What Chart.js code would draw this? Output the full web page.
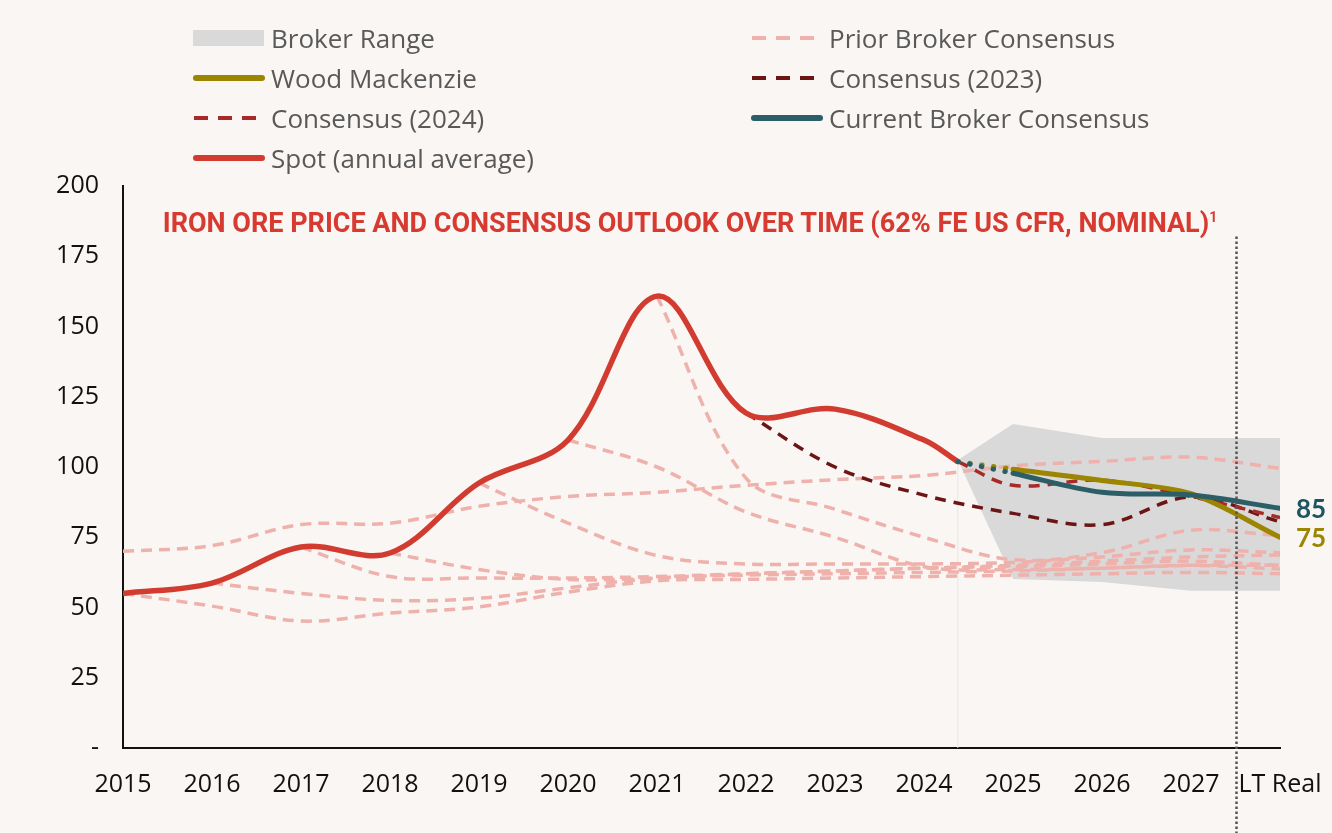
<!DOCTYPE html>
<html>
<head>
<meta charset="utf-8">
<script src="https://cdn.jsdelivr.net/npm/chart.js@4/dist/chart.umd.min.js"></script>
<style>
  html, body { margin: 0; padding: 0; background: #f9f6f3; }
  #wrap { position: relative; width: 1332px; height: 833px; overflow: hidden; }
  #chart { position: absolute; left: 0; top: 0; }
  .leg { position: absolute; display: flex; align-items: center; height: 40px;
         font-family: "Open Sans", sans-serif; font-size: 26px; color: #595959; white-space: nowrap; }
  .leg svg { margin-right: 6px; }
  #title { position: absolute; left: 0; width: 1380px; top: 207px; text-align: center;
           font-family: Roboto, sans-serif; font-weight: 700; font-size: 27px; color: #d63a30; white-space: nowrap; }
  #title sup { font-size: 14px; vertical-align: 10px; }
</style>
</head>
<body>
<div id="wrap">
  <canvas id="chart" width="1332" height="833"></canvas>
  <div id="title">IRON ORE PRICE AND CONSENSUS OUTLOOK OVER TIME (62% FE US CFR, NOMINAL)<sup>1</sup></div>
  <div id="legend"></div>
</div>
<script>
// Datos del gráfico (x = año, 2028 = LT Real)
const xLabels = ['2015', '2016', '2017', '2018', '2019', '2020', '2021', '2022', '2023', '2024', '2025', '2026', '2027', 'LT Real'];
const xTicks = [2015, 2016, 2017, 2018, 2019, 2020, 2021, 2022, 2023, 2024, 2025, 2026, 2027, 2028];

const spotX = [2015, 2016, 2017, 2018, 2019, 2020, 2021, 2022, 2023, 2024, 2024.38];
const spotY = [55, 58.7, 71.5, 69.4, 94.3, 109.6, 160.8, 119.2, 120.6, 109.6, 101.9];

const woodMacX = [2025, 2026, 2027, 2028];
const woodMacY = [99.2, 95.2, 90.5, 75];
const currentX = [2025, 2026, 2027, 2028];
const currentY = [97.8, 91, 90, 85.3];

const woodMacDotsX = [2024.38, 2025];
const woodMacDotsY = [101.9, 99.2];
const currentDotsX = [2024.38, 2025];
const currentDotsY = [101.9, 97.8];

const cons2024X = [2024.38, 2025, 2026, 2027, 2028];
const cons2024Y = [101.9, 93.5, 95.3, 89.5, 82];
const cons2023X = [2022, 2023, 2024, 2025, 2026, 2027, 2028];
const cons2023Y = [119.2, 100, 90, 83.5, 79.5, 89.3, 80.5];

const rangeX = [2024.38, 2025, 2026, 2027, 2028];
const rangeHigh = [102.5, 115.3, 110.3, 110.3, 110.3];
const rangeLow = [102.5, 60.1, 59.1, 56, 56];

const splitX = [2024.38, 2024.38];
const splitY = [0, 101.9];
const ltDivider = 2027.5;

// Consensos previos (año inicial + valores anuales)
const priorUpperStart = 2015;
const priorUpper = [70, 72, 79.5, 80, 86, 89.5, 91, 93.5, 95.5, 97, 100.4, 102, 103.5, 99.5];
const prior2015Start = 2015;
const prior2015 = [55, 50.5, 45.2, 48, 50.2, 55.5, 59.5, 60, 60.5, 61, 61.5, 62, 62.5, 62];
const prior2016Start = 2016;
const prior2016 = [58.7, 55, 52.5, 53.3, 57, 60.5, 61.5, 62, 62.5, 63, 64, 65, 63.7];
const prior2017Start = 2017;
const prior2017 = [71.5, 61, 60.5, 60.5, 61, 62, 63, 64, 64.5, 65.5, 66.5, 65];
const prior2018Start = 2018;
const prior2018 = [69.4, 63.5, 60, 60.5, 62, 63, 64, 65, 66.5, 68, 68.7];
const prior2019Start = 2019;
const prior2019 = [94.3, 80, 68.5, 65.5, 65.5, 65.5, 66, 68, 70.5, 69.5];
const prior2020Start = 2020;
const prior2020 = [109.6, 100, 84, 75, 64.5, 63.5, 64, 65, 65];
const prior2021Start = 2021;
const prior2021 = [160.8, 96, 85, 75, 67, 69.5, 77.5, 75.5];

const C = {
    spot: '#d23b2f', pink: '#efb1ab', c2024: '#a82a28', c2023: '#6b1515',
    woodMac: '#9c8500', current: '#2b5e66', range: '#d9d9d9'
};

const pts = (xs, ys) => ys.map((y, i) => ({ x: xs[i], y }));
const fromStart = (start, ys) => ys.map((y, i) => ({ x: start + i, y }));

const pinkLine = (data) => ({
    data, borderColor: C.pink, borderWidth: 3.5, borderDash: [11, 7], tension: 0.35, pointRadius: 0, fill: false
});

const datasets = [
    { label: 'Current Broker Consensus', data: pts(currentX, currentY), borderColor: C.current, borderWidth: 5, borderCapStyle: 'round', tension: 0.35, pointRadius: 0 },
    { label: 'Wood Mackenzie', data: pts(woodMacX, woodMacY), borderColor: C.woodMac, borderWidth: 5, borderCapStyle: 'round', tension: 0.3, pointRadius: 0 },
    { data: pts(currentDotsX, currentDotsY), borderColor: C.current, borderWidth: 5, borderDash: [0.5, 11.5], borderCapStyle: 'round', tension: 0, pointRadius: 0 },
    { data: pts(woodMacDotsX, woodMacDotsY), borderColor: C.woodMac, borderWidth: 5, borderDash: [0.5, 11.5], borderCapStyle: 'round', tension: 0, pointRadius: 0 },
    { label: 'Spot (annual average)', data: pts(spotX, spotY), borderColor: C.spot, borderWidth: 5.5, tension: 0.35, pointRadius: 0 },
    { label: 'Consensus (2024)', data: pts(cons2024X, cons2024Y), borderColor: C.c2024, borderWidth: 3.5, borderDash: [11, 8], tension: 0.35, pointRadius: 0 },
    { label: 'Consensus (2023)', data: pts(cons2023X, cons2023Y), borderColor: C.c2023, borderWidth: 3.5, borderDash: [11, 8], tension: 0.35, pointRadius: 0 },
    pinkLine(fromStart(priorUpperStart, priorUpper)),
    pinkLine(fromStart(prior2015Start, prior2015)),
    pinkLine(fromStart(prior2016Start, prior2016)),
    pinkLine(fromStart(prior2017Start, prior2017)),
    pinkLine(fromStart(prior2018Start, prior2018)),
    pinkLine(fromStart(prior2019Start, prior2019)),
    pinkLine(fromStart(prior2020Start, prior2020)),
    pinkLine(fromStart(prior2021Start, prior2021)),
    { data: pts(splitX, splitY), borderColor: '#ebe6e2', borderWidth: 1, tension: 0, pointRadius: 0 },
    { label: 'Broker Range', data: pts(rangeX, rangeHigh), borderWidth: 0, backgroundColor: C.range, fill: '+1', tension: 0, pointRadius: 0 },
    { data: pts(rangeX, rangeLow), borderWidth: 0, fill: false, tension: 0, pointRadius: 0 }
];

// Etiquetas finales (85 / 75) y línea punteada vertical
const extrasPlugin = {
    id: 'extras',
    afterDatasetsDraw(chart) {
        const ctx = chart.ctx;
        const xs = chart.scales.x, ys = chart.scales.y;
        const xd = Math.round(xs.getPixelForValue(ltDivider)) + 0.5;
        ctx.save();
        ctx.strokeStyle = '#555555';
        ctx.lineWidth = 2.5;
        ctx.setLineDash([2.5, 2.5]);
        ctx.beginPath();
        ctx.moveTo(xd, ys.getPixelForValue(182));
        ctx.lineTo(xd, chart.height);
        ctx.stroke();
        ctx.setLineDash([]);

        ctx.font = 'bold 26px Lato, sans-serif';
        ctx.textBaseline = 'middle';
        ctx.textAlign = 'left';
        [[0, '#1d5560'], [1, C.woodMac]].forEach(([i, col]) => {
            const meta = chart.getDatasetMeta(i);
            const last = meta.data[meta.data.length - 1];
            const v = chart.data.datasets[i].data[meta.data.length - 1].y;
            ctx.fillStyle = col;
            ctx.fillText(String(Math.round(v)), last.x + 16, last.y + 1);
        });
        ctx.restore();
    }
};

new Chart(document.getElementById('chart'), {
    type: 'line',
    data: { datasets },
    options: {
        responsive: false,
        animation: false,
        layout: { padding: { top: 186, right: 52, left: 0, bottom: 0 } },
        plugins: { legend: { display: false }, tooltip: { enabled: false } },
        scales: {
            x: {
                type: 'linear', min: 2015, max: 2028,
                afterFit: (s) => { s.height = 85; s.paddingLeft = 0; s.paddingRight = 0; },
                afterBuildTicks: (s) => { s.ticks = xTicks.map(v => ({ value: v })); },
                ticks: {
                    autoSkip: false, maxRotation: 0, padding: 22, color: '#111',
                    font: { family: 'Open Sans', size: 25 },
                    callback: (v) => xLabels[xTicks.indexOf(v)]
                },
                grid: { display: false, drawTicks: false },
                border: { display: true, color: '#111', width: 2 }
            },
            y: {
                min: 0, max: 200,
                afterFit: (s) => { s.width = 123; s.paddingTop = 0; s.paddingBottom = 0; },
                ticks: {
                    stepSize: 25, padding: 24, color: '#111',
                    font: { family: 'Open Sans', size: 25 },
                    callback: (v) => v === 0 ? '-' : v
                },
                grid: { display: false, drawTicks: false },
                border: { display: true, color: '#111', width: 2 }
            }
        }
    },
    plugins: [extrasPlugin]
});

// Leyenda en dos columnas
const legendItems = [
    { text: 'Broker Range', left: 193, top: 18, kind: 'box', color: C.range },
    { text: 'Wood Mackenzie', left: 193, top: 58, kind: 'solid', color: C.woodMac },
    { text: 'Consensus (2024)', left: 193, top: 98, kind: 'dash', color: C.c2024 },
    { text: 'Spot (annual average)', left: 193, top: 138, kind: 'solid', color: C.spot },
    { text: 'Prior Broker Consensus', left: 751, top: 18, kind: 'dash', color: C.pink },
    { text: 'Consensus (2023)', left: 751, top: 58, kind: 'dash', color: C.c2023 },
    { text: 'Current Broker Consensus', left: 751, top: 98, kind: 'solid', color: C.current }
];
const legendEl = document.getElementById('legend');
legendItems.forEach(it => {
    let sample;
    if (it.kind === 'box') {
        sample = `<rect x="0" y="3" width="71" height="16" fill="${it.color}"/>`;
    } else if (it.kind === 'solid') {
        sample = `<line x1="3" y1="11" x2="69" y2="11" stroke="${it.color}" stroke-width="6" stroke-linecap="round"/>`;
    } else {
        sample = `<line x1="1" y1="11" x2="63" y2="11" stroke="${it.color}" stroke-width="4" stroke-dasharray="14 10"/>`;
    }
    const div = document.createElement('div');
    div.className = 'leg';
    div.style.left = it.left + 'px';
    div.style.top = it.top + 'px';
    div.innerHTML = `<svg width="72" height="22">${sample}</svg><span>${it.text}</span>`;
    legendEl.appendChild(div);
});
</script>
</body>
</html>
